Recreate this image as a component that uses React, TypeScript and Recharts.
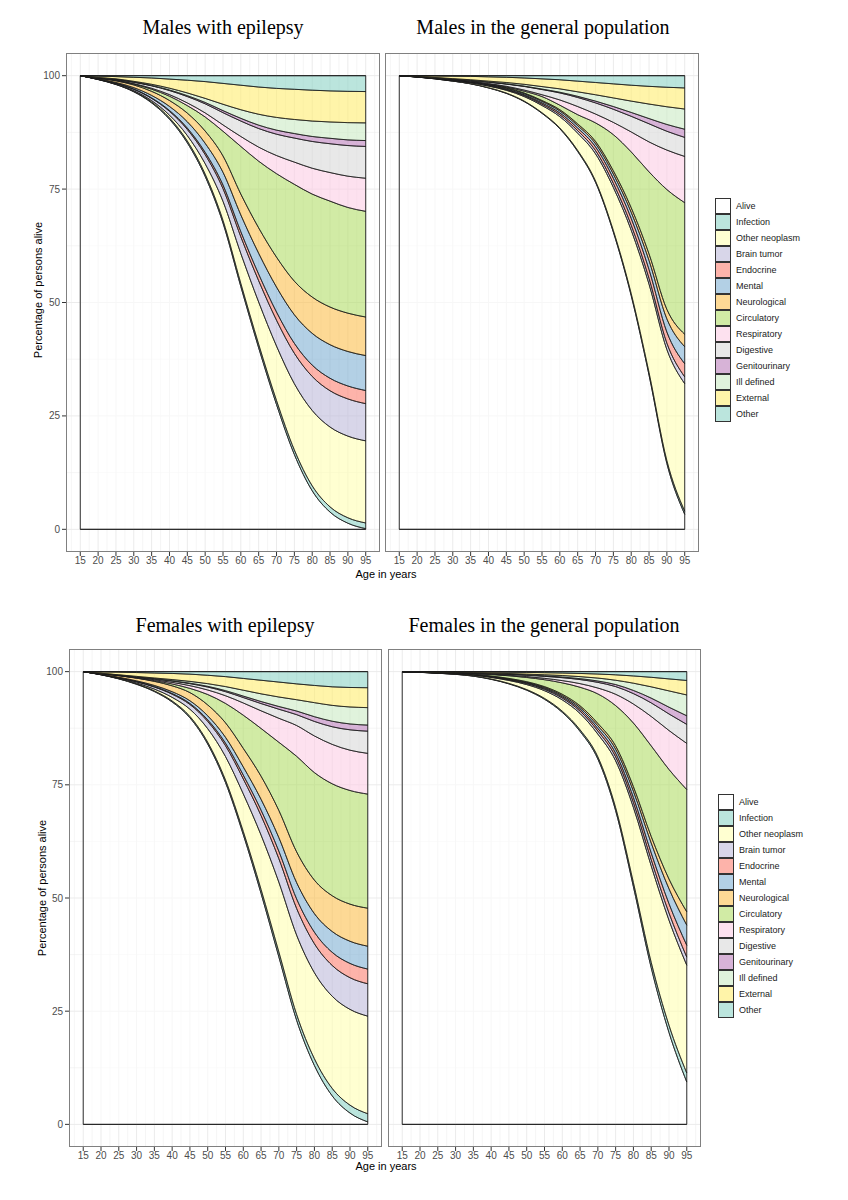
import React from 'react';
import { AreaChart, Area, XAxis, YAxis, CartesianGrid, ReferenceArea } from 'recharts';

// ---------- shared axes / categories ----------
const ages = [15, 20, 25, 30, 35, 40, 45, 50, 55, 60, 65, 70, 75, 80, 85, 90, 95];
const ageTicks = [15, 20, 25, 30, 35, 40, 45, 50, 55, 60, 65, 70, 75, 80, 85, 90, 95];
const ageMinorLines = [12.5, 17.5, 22.5, 27.5, 32.5, 37.5, 42.5, 47.5, 52.5, 57.5, 62.5, 67.5, 72.5, 77.5, 82.5, 87.5, 92.5, 97.5];
const pctTicks = [0, 25, 50, 75, 100];
const pctMinorLines = [12.5, 37.5, 62.5, 87.5];

const causes = ['Alive', 'Infection', 'Other neoplasm', 'Brain tumor', 'Endocrine', 'Mental', 'Neurological', 'Circulatory', 'Respiratory', 'Digestive', 'Genitourinary', 'Ill defined', 'External', 'Other'];
const causeColours = ['#FFFFFF', '#8DD3C7', '#FFFFB3', '#BEBADA', '#FB8072', '#80B1D3', '#FCC04E', '#B3DE69', '#FCCDE5', '#D9D9D9', '#BC80BD', '#CCEBC5', '#FFED6F', '#8DD3C7'];

const panelTitles = ['Males with epilepsy', 'Males in the general population', 'Females with epilepsy', 'Females in the general population'];

// cumulative percentage (upper edge of each stacked band), by age
const totalPct = [100, 100, 100, 100, 100, 100, 100, 100, 100, 100, 100, 100, 100, 100, 100, 100, 100];

// ---------- Males with epilepsy ----------
const mEpiAlive = [100, 99.15, 98.05, 96.45, 94.0, 90.4, 85.2, 77.8, 67.5, 53.5, 40.0, 27.5, 16.5, 8.5, 3.8, 1.35, 0.15];
const mEpiInfection = [100, 99.17, 98.1, 96.55, 94.2, 90.7, 85.6, 78.3, 68.1, 54.2, 40.8, 28.4, 17.5, 9.6, 4.95, 2.55, 1.4];
const mEpiOtherNeoplasm = [100, 99.2, 98.18, 96.7, 94.5, 91.3, 86.8, 80.6, 72.3, 60.8, 50.1, 40.4, 32.1, 26.2, 22.55, 20.55, 19.5];
const mEpiBrainTumor = [100, 99.25, 98.33, 97.0, 95.0, 92.15, 88.15, 82.6, 75.1, 64.5, 54.8, 46.1, 38.8, 33.7, 30.55, 28.75, 27.7];
const mEpiEndocrine = [100, 99.26, 98.36, 97.06, 95.1, 92.33, 88.45, 83.1, 75.9, 65.6, 56.25, 47.9, 41.0, 36.2, 33.3, 31.6, 30.6];
const mEpiMental = [100, 99.31, 98.51, 97.36, 95.65, 93.23, 89.85, 85.1, 78.7, 69.3, 60.85, 53.4, 47.3, 43.2, 40.7, 39.2, 38.3];
const mEpiNeurological = [100, 99.46, 98.86, 97.96, 96.55, 94.53, 91.75, 87.8, 82.3, 73.9, 66.45, 60.0, 54.7, 51.2, 49.0, 47.65, 46.8];
const mEpiCirculatory = [100, 99.48, 98.98, 98.15, 97.02, 95.48, 93.4, 90.9, 87.75, 84.4, 81.15, 78.4, 76.05, 73.9, 72.35, 70.95, 70.1];
const mEpiRespiratory = [100, 99.5, 99.03, 98.25, 97.22, 95.83, 94.0, 91.8, 89.15, 86.6, 84.25, 82.4, 80.95, 79.6, 78.65, 77.85, 77.4];
const mEpiDigestive = [100, 99.55, 99.18, 98.55, 97.77, 96.73, 95.4, 93.8, 91.85, 90.0, 88.35, 87.1, 86.25, 85.5, 85.0, 84.6, 84.4];
const mEpiGenitourinary = [100, 99.55, 99.2, 98.6, 97.85, 96.85, 95.6, 94.1, 92.3, 90.6, 89.1, 88.0, 87.25, 86.6, 86.2, 85.85, 85.7];
const mEpiIllDefined = [100, 99.6, 99.3, 98.75, 98.1, 97.25, 96.2, 95.0, 93.7, 92.5, 91.5, 90.8, 90.35, 90.0, 89.8, 89.65, 89.6];
const mEpiExternal = [100, 99.9, 99.8, 99.65, 99.5, 99.25, 99.0, 98.7, 98.3, 97.9, 97.5, 97.2, 97.0, 96.8, 96.65, 96.55, 96.5];

// ---------- Males in the general population ----------
const mGenAlive = [100, 99.7, 99.3, 98.8, 98.2, 97.3, 96.1, 94.3, 91.7, 88.3, 83.3, 76.5, 65.5, 51.5, 34.0, 14.5, 3.3];
const mGenInfection = [100, 99.71, 99.32, 98.83, 98.24, 97.36, 96.18, 94.4, 91.83, 88.47, 83.52, 76.78, 65.86, 51.95, 34.55, 15.14, 4.0];
const mGenOtherNeoplasm = [100, 99.73, 99.37, 98.93, 98.44, 97.71, 96.78, 95.4, 93.43, 90.97, 87.32, 82.78, 75.36, 65.95, 54.05, 39.64, 32.1];
const mGenBrainTumor = [100, 99.74, 99.39, 98.97, 98.51, 97.81, 96.93, 95.62, 93.73, 91.39, 87.87, 83.5, 76.26, 67.05, 55.32, 41.04, 33.6];
const mGenEndocrine = [100, 99.75, 99.41, 99.0, 98.56, 97.89, 97.05, 95.8, 94.0, 91.79, 88.44, 84.3, 77.36, 68.55, 57.27, 43.49, 36.5];
const mGenMental = [100, 99.77, 99.45, 99.07, 98.66, 98.03, 97.24, 96.05, 94.33, 92.22, 88.99, 85.0, 78.31, 69.9, 59.27, 46.39, 40.25];
const mGenNeurological = [100, 99.78, 99.47, 99.1, 98.71, 98.1, 97.34, 96.19, 94.53, 92.5, 89.37, 85.52, 79.03, 70.9, 60.72, 48.49, 43.0];
const mGenCirculatory = [100, 99.79, 99.5, 99.13, 98.73, 98.17, 97.5, 96.58, 95.4, 93.5, 91.4, 89.6, 87.0, 83.2, 78.8, 74.9, 72.0];
const mGenRespiratory = [100, 99.8, 99.52, 99.16, 98.78, 98.27, 97.65, 96.83, 95.8, 94.65, 93.2, 91.55, 89.7, 87.6, 85.4, 83.6, 82.2];
const mGenDigestive = [100, 99.81, 99.55, 99.24, 98.93, 98.57, 98.15, 97.63, 96.95, 96.2, 95.2, 94.0, 92.6, 91.05, 89.4, 87.75, 86.4];
const mGenGenitourinary = [100, 99.81, 99.55, 99.25, 98.95, 98.6, 98.2, 97.7, 97.05, 96.35, 95.45, 94.4, 93.2, 91.9, 90.55, 89.25, 88.2];
const mGenIllDefined = [100, 99.83, 99.6, 99.35, 99.1, 98.8, 98.5, 98.1, 97.6, 97.1, 96.45, 95.8, 95.1, 94.4, 93.75, 93.15, 92.65];
const mGenExternal = [100, 99.98, 99.95, 99.9, 99.85, 99.75, 99.65, 99.5, 99.3, 99.1, 98.8, 98.5, 98.2, 97.9, 97.65, 97.45, 97.3];

// ---------- Females with epilepsy ----------
const fEpiAlive = [100, 99.3, 98.4, 97.2, 95.6, 93.3, 89.8, 84.0, 75.5, 64.0, 51.0, 37.0, 23.0, 13.0, 6.3, 2.5, 0.55];
const fEpiInfection = [100, 99.32, 98.45, 97.3, 95.75, 93.52, 90.1, 84.4, 76.05, 64.7, 51.9, 38.1, 24.3, 14.5, 7.95, 4.25, 2.35];
const fEpiOtherNeoplasm = [100, 99.35, 98.53, 97.5, 96.15, 94.32, 91.7, 87.4, 81.25, 73.0, 63.9, 53.5, 41.8, 33.5, 28.3, 25.4, 23.9];
const fEpiBrainTumor = [100, 99.4, 98.65, 97.75, 96.6, 95.02, 92.75, 89.0, 83.65, 76.3, 68.2, 58.7, 47.7, 39.9, 35.1, 32.4, 31.05];
const fEpiEndocrine = [100, 99.41, 98.68, 97.81, 96.7, 95.17, 92.97, 89.35, 84.2, 77.15, 69.4, 60.35, 49.8, 42.45, 38.0, 35.55, 34.3];
const fEpiMental = [100, 99.44, 98.76, 97.96, 96.95, 95.57, 93.57, 90.25, 85.5, 78.95, 71.8, 63.35, 53.4, 46.55, 42.6, 40.45, 39.35];
const fEpiNeurological = [100, 99.59, 99.11, 98.56, 97.85, 96.87, 95.37, 92.65, 88.7, 83.05, 76.9, 69.35, 60.2, 53.95, 50.5, 48.65, 47.75];
const fEpiCirculatory = [100, 99.59, 99.13, 98.61, 98.01, 97.28, 96.3, 94.95, 92.98, 90.38, 87.45, 84.4, 81.3, 77.7, 75.23, 73.75, 72.95];
const fEpiRespiratory = [100, 99.61, 99.18, 98.71, 98.21, 97.63, 96.9, 95.95, 94.68, 93.08, 91.35, 89.7, 88.1, 85.8, 83.93, 82.65, 81.95];
const fEpiDigestive = [100, 99.63, 99.24, 98.83, 98.41, 97.93, 97.35, 96.6, 95.58, 94.28, 92.95, 91.7, 90.5, 89.0, 87.83, 87.15, 86.85];
const fEpiGenitourinary = [100, 99.63, 99.25, 98.85, 98.45, 98.0, 97.45, 96.75, 95.8, 94.6, 93.4, 92.3, 91.3, 90.05, 89.05, 88.45, 88.2];
const fEpiIllDefined = [100, 99.65, 99.3, 98.95, 98.6, 98.25, 97.85, 97.35, 96.7, 95.9, 95.1, 94.4, 93.8, 93.15, 92.55, 92.2, 92.05];
const fEpiExternal = [100, 99.95, 99.9, 99.8, 99.7, 99.6, 99.45, 99.2, 98.9, 98.5, 98.1, 97.7, 97.3, 96.95, 96.65, 96.5, 96.45];

// ---------- Females in the general population ----------
const fGenAlive = [100, 99.84, 99.65, 99.4, 99.0, 98.3, 97.3, 95.9, 93.9, 91.0, 86.8, 80.7, 69.3, 52.5, 34.6, 20.3, 9.35];
const fGenInfection = [100, 99.85, 99.67, 99.43, 99.05, 98.37, 97.4, 96.04, 94.09, 91.26, 87.15, 81.18, 69.96, 53.4, 35.8, 21.9, 11.35];
const fGenOtherNeoplasm = [100, 99.86, 99.7, 99.51, 99.23, 98.72, 98.05, 97.14, 95.79, 93.76, 90.75, 86.2, 80.3, 70.0, 57.1, 45.1, 35.15];
const fGenBrainTumor = [100, 99.87, 99.72, 99.55, 99.3, 98.82, 98.2, 97.36, 96.09, 94.16, 91.27, 86.88, 81.18, 71.1, 58.45, 46.7, 36.95];
const fGenEndocrine = [100, 99.88, 99.74, 99.58, 99.35, 98.89, 98.3, 97.5, 96.29, 94.44, 91.67, 87.45, 81.98, 72.2, 59.95, 48.75, 39.55];
const fGenMental = [100, 99.89, 99.76, 99.61, 99.4, 98.96, 98.4, 97.64, 96.49, 94.72, 92.07, 88.05, 82.88, 73.6, 62.15, 52.05, 44.0];
const fGenNeurological = [100, 99.9, 99.78, 99.64, 99.45, 99.03, 98.5, 97.78, 96.69, 95.0, 92.45, 88.57, 83.6, 74.6, 63.6, 54.2, 46.95];
const fGenCirculatory = [100, 99.91, 99.82, 99.71, 99.56, 99.36, 99.09, 98.71, 98.22, 97.52, 96.55, 95.08, 92.5, 88.65, 83.6, 78.4, 73.95];
const fGenRespiratory = [100, 99.92, 99.84, 99.74, 99.61, 99.44, 99.21, 98.91, 98.52, 98.02, 97.35, 96.38, 95.0, 92.85, 90.1, 87.0, 84.15];
const fGenDigestive = [100, 99.93, 99.86, 99.78, 99.68, 99.56, 99.41, 99.21, 98.97, 98.67, 98.25, 97.63, 96.7, 95.15, 93.1, 90.65, 88.35];
const fGenGenitourinary = [100, 99.93, 99.86, 99.79, 99.7, 99.59, 99.46, 99.28, 99.07, 98.81, 98.45, 97.93, 97.15, 95.85, 94.15, 92.15, 90.25];
const fGenIllDefined = [100, 99.94, 99.88, 99.82, 99.75, 99.67, 99.58, 99.45, 99.31, 99.14, 98.9, 98.58, 98.1, 97.45, 96.65, 95.75, 94.85];
const fGenExternal = [100, 99.99, 99.98, 99.97, 99.95, 99.92, 99.88, 99.83, 99.77, 99.7, 99.6, 99.48, 99.3, 99.05, 98.75, 98.4, 98.05];

const maleEpiEdges = [mEpiAlive, mEpiInfection, mEpiOtherNeoplasm, mEpiBrainTumor, mEpiEndocrine, mEpiMental, mEpiNeurological, mEpiCirculatory, mEpiRespiratory, mEpiDigestive, mEpiGenitourinary, mEpiIllDefined, mEpiExternal, totalPct];
const maleGenEdges = [mGenAlive, mGenInfection, mGenOtherNeoplasm, mGenBrainTumor, mGenEndocrine, mGenMental, mGenNeurological, mGenCirculatory, mGenRespiratory, mGenDigestive, mGenGenitourinary, mGenIllDefined, mGenExternal, totalPct];
const femaleEpiEdges = [fEpiAlive, fEpiInfection, fEpiOtherNeoplasm, fEpiBrainTumor, fEpiEndocrine, fEpiMental, fEpiNeurological, fEpiCirculatory, fEpiRespiratory, fEpiDigestive, fEpiGenitourinary, fEpiIllDefined, fEpiExternal, totalPct];
const femaleGenEdges = [fGenAlive, fGenInfection, fGenOtherNeoplasm, fGenBrainTumor, fGenEndocrine, fGenMental, fGenNeurological, fGenCirculatory, fGenRespiratory, fGenDigestive, fGenGenitourinary, fGenIllDefined, fGenExternal, totalPct];

const SANS = '"Liberation Sans", Arial, sans-serif';
const SERIF = '"Liberation Serif", "Times New Roman", serif';

function buildRows(edges: number[][]) {
  return ages.map((age, i) => {
    const row: Record<string, any> = { age };
    edges.forEach((edge, k) => {
      const lower = k === 0 ? 0 : edges[k - 1][i];
      row['band' + k] = [lower, edge[i]];
    });
    return row;
  });
}

type PanelProps = { left: number; top: number; width: number; height: number; edges: number[][]; showY: boolean };

function Panel({ left, top, width, height, edges, showY }: PanelProps) {
  const yAxisW = showY ? 46 : 0;
  const xAxisH = 24;
  const rows = buildRows(edges);
  const W = width + yAxisW;
  const H = height + xAxisH;
  return (
    <div style={{ position: 'absolute', left: left - yAxisW, top, width: W, height: H }}>
      <AreaChart width={W} height={H} data={rows} margin={{ top: 0, right: 0, bottom: 0, left: 0 }}>
        <CartesianGrid stroke="#EBEBEB" strokeWidth={0.5} verticalValues={ageMinorLines} horizontalValues={pctMinorLines} />
        <CartesianGrid stroke="#EBEBEB" strokeWidth={1} verticalValues={ageTicks} horizontalValues={pctTicks} />
        <XAxis
          type="number"
          dataKey="age"
          domain={[11, 99]}
          ticks={ageTicks}
          interval={0}
          height={xAxisH}
          axisLine={false}
          tickSize={4}
          tickMargin={1}
          tickLine={{ stroke: '#333333' }}
          tick={{ fontSize: 10, fill: '#4D4D4D', fontFamily: SANS }}
        />
        <YAxis
          type="number"
          domain={[-5, 105]}
          ticks={pctTicks}
          interval={0}
          width={yAxisW}
          hide={!showY}
          axisLine={false}
          tickSize={4}
          tickMargin={2}
          tickLine={{ stroke: '#333333' }}
          tick={{ fontSize: 10, fill: '#4D4D4D', fontFamily: SANS }}
        />
        {causes.map((c, k) => (
          <Area
            key={c}
            type="monotone"
            dataKey={'band' + k}
            stroke="#1A1A1A"
            strokeWidth={0.8}
            fill={causeColours[k]}
            fillOpacity={0.6}
            dot={false}
            activeDot={false}
            isAnimationActive={false}
          />
        ))}
        <ReferenceArea
          x1={ages[0]}
          x2={ages[ages.length - 1]}
          y1={pctTicks[0]}
          y2={pctTicks[pctTicks.length - 1]}
          fill="none"
          fillOpacity={0}
          stroke="#1A1A1A"
          strokeWidth={0.9}
        />
      </AreaChart>
      <div
        style={{
          position: 'absolute',
          left: yAxisW,
          top: 0,
          width,
          height,
          border: '1px solid #808080',
          boxSizing: 'border-box',
          pointerEvents: 'none',
        }}
      />
    </div>
  );
}

function CauseLegend({ left, top }: { left: number; top: number }) {
  return (
    <div style={{ position: 'absolute', left, top }}>
      {causes.map((c, k) => (
        <div key={c} style={{ display: 'flex', alignItems: 'center', height: 16 }}>
          <div style={{ position: 'relative', width: 16, height: 16, boxSizing: 'border-box', border: '1px solid #333', background: '#fff' }}>
            <div style={{ position: 'absolute', inset: 0, background: causeColours[k], opacity: 0.6 }} />
          </div>
          <span style={{ marginLeft: 5, fontSize: 9, fontFamily: SANS, color: '#1A1A1A', whiteSpace: 'nowrap' }}>{c}</span>
        </div>
      ))}
    </div>
  );
}

function Title({ text, cx, cy }: { text: string; cx: number; cy: number }) {
  return (
    <div
      style={{
        position: 'absolute',
        left: cx - 200,
        top: cy - 12,
        width: 400,
        height: 24,
        lineHeight: '24px',
        textAlign: 'center',
        fontFamily: SERIF,
        fontSize: 20,
        color: '#000',
      }}
    >
      {text}
    </div>
  );
}

function AxisText({ text, cx, cy, rotate }: { text: string; cx: number; cy: number; rotate?: boolean }) {
  return (
    <div
      style={{
        position: 'absolute',
        left: cx - 100,
        top: cy - 8,
        width: 200,
        height: 16,
        lineHeight: '16px',
        textAlign: 'center',
        fontFamily: SANS,
        fontSize: 11,
        color: '#000',
        transform: rotate ? 'rotate(-90deg)' : undefined,
      }}
    >
      {text}
    </div>
  );
}

export default function App() {
  return (
    <div style={{ position: 'absolute', left: 0, top: 0, width: 848, height: 1200, background: '#fff', overflow: 'hidden' }}>
      <Title text={panelTitles[0]} cx={223} cy={27} />
      <Title text={panelTitles[1]} cx={543} cy={27} />
      <Panel left={66} top={53} width={314} height={499} edges={maleEpiEdges} showY={true} />
      <Panel left={385} top={53} width={314} height={499} edges={maleGenEdges} showY={false} />
      <AxisText text="Percentage of persons alive" cx={38} cy={290} rotate />
      <AxisText text="Age in years" cx={386} cy={574} />
      <CauseLegend left={715} top={198} />

      <Title text={panelTitles[2]} cx={225} cy={625} />
      <Title text={panelTitles[3]} cx={544} cy={625} />
      <Panel left={69} top={649} width={313} height={498} edges={femaleEpiEdges} showY={true} />
      <Panel left={388} top={649} width={313} height={498} edges={femaleGenEdges} showY={false} />
      <AxisText text="Percentage of persons alive" cx={42} cy={888} rotate />
      <AxisText text="Age in years" cx={386} cy={1166} />
      <CauseLegend left={718} top={794} />
    </div>
  );
}
